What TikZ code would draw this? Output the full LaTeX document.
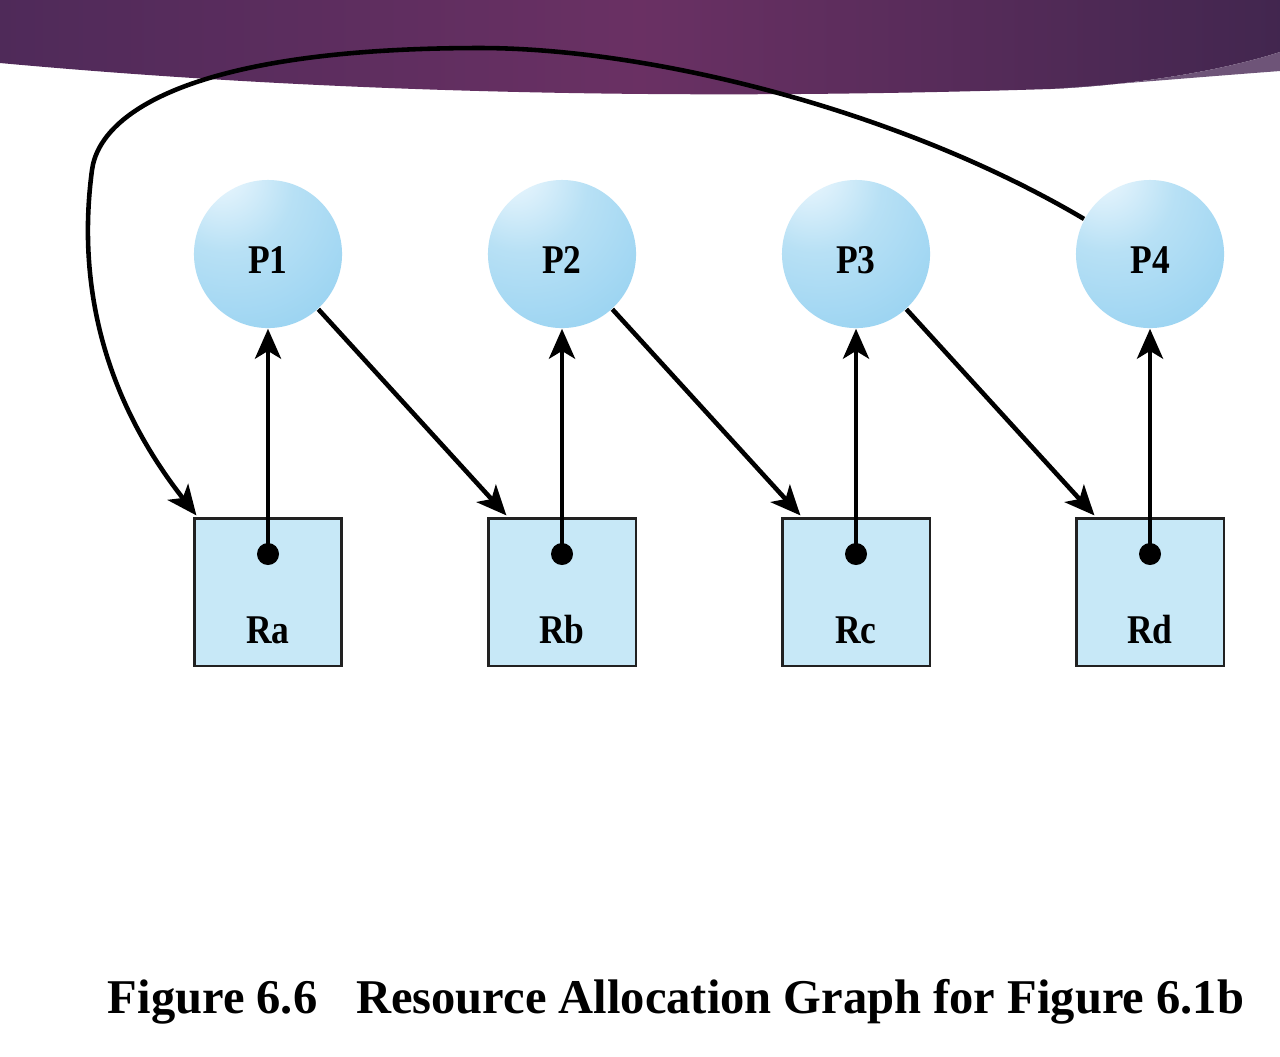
\documentclass[tikz,border=0pt]{standalone}
\usepackage{fontspec}
\setmainfont{Liberation Serif}
\newfontfamily\narrowfont[FakeStretch=0.87]{Liberation Serif}
\usetikzlibrary{arrows.meta}
\definecolor{cpin}{rgb}{0.95,0.98,1.0}
\definecolor{cpmid}{rgb}{0.72,0.88,0.96}
\definecolor{cpout}{rgb}{0.54,0.80,0.94}
\pgfdeclareradialshading{procshade}{\pgfpoint{-18bp}{30bp}}{color(0bp)=(cpin); color(22bp)=(cpmid); color(58bp)=(cpout); color(90bp)=(cpout)}

\begin{document}
\begin{tikzpicture}[x=0.01cm,y=-0.01cm,
	proc/.style={circle,minimum size=1.48cm,inner sep=0pt,shading=procshade,text height=0.38cm,text depth=0pt,font=\narrowfont\fontsize{11.6}{14}\selectfont\bfseries},
	res/.style={rectangle,minimum size=1.47cm,inner sep=0pt,draw=cres,line width=0.6pt,fill=cfres},
	reslabel/.style={font=\narrowfont\fontsize{11.6}{14}\selectfont\bfseries},
	hold/.style={circle,fill=black,minimum size=0.22cm,inner sep=0pt},
	alloc/.style={line width=1.3pt,-{Stealth[length=8.5pt,width=7.4pt,inset=2.2pt]}}]
					\definecolor{cres}{rgb}{0.13,0.13,0.13}
					\definecolor{cfres}{rgb}{0.78,0.91,0.97}
					\definecolor{cbl}{rgb}{0.31,0.165,0.35}
					\definecolor{cbm}{rgb}{0.415,0.19,0.39}
					\definecolor{cbr}{rgb}{0.26,0.15,0.31}
					\definecolor{cbs}{rgb}{0.43,0.33,0.47}
					%
					\useasboundingbox (0,0) rectangle (1280,1056);
					\fill[white] (0,0) rectangle (1280,1056);
					\shade[left color=cbl,right color=cbr,middle color=cbm] (0,0) -- (1280,0) -- (1280,52) .. controls (1230,68) and (1150,84) .. (1050,89) .. controls (700,100) and (350,95) .. (0,63) -- cycle;
					\fill[cbs] (1050,89) .. controls (1150,84) and (1230,68) .. (1280,52) -- (1280,71) .. controls (1200,77) and (1130,83) .. (1050,89) -- cycle;
					%
					\node[proc] (P1) at (268,254) {P1};
					\node[proc] (P2) at (562,254) {P2};
					\node[proc] (P3) at (856,254) {P3};
					\node[proc] (P4) at (1150,254) {P4};
					%
					\node[res] (Ra) at (268,592) {};
					\node[res] (Rb) at (562,592) {};
					\node[res] (Rc) at (856,592) {};
					\node[res] (Rd) at (1150,592) {};
					\node[reslabel] (la) at (268,630) {Ra};
					\node[reslabel] (lb) at (562,630) {Rb};
					\node[reslabel] (lc) at (856,630) {Rc};
					\node[reslabel] (ld) at (1150,630) {Rd};
					\node[hold] (ha) at (268,554) {};
					\node[hold] (hb) at (562,554) {};
					\node[hold] (hc) at (856,554) {};
					\node[hold] (hd) at (1150,554) {};
					%
					\draw[alloc] (ha.center) -- (P1);
					\draw[alloc] (hb.center) -- (P2);
					\draw[alloc] (hc.center) -- (P3);
					\draw[alloc] (hd.center) -- (P4);
					\draw[alloc] (P1) -- ([xshift=0.19cm,yshift=0.02cm]Rb.north west);
					\draw[alloc] (P2) -- ([xshift=0.19cm,yshift=0.02cm]Rc.north west);
					\draw[alloc] (P3) -- ([xshift=0.19cm,yshift=0.02cm]Rd.north west);
					\draw[alloc] (P4.152) .. controls (900,110) and (650,48) .. (480,48) .. controls (200,48) and (100,110) .. (92,170) .. controls (80,260) and (90,380) .. ([xshift=0.03cm,yshift=0.02cm]Ra.north west);
					%
					\node[font=\fontsize{13.8}{16}\selectfont\bfseries] (cap) at (676,1002) {Figure 6.6\hspace{0.8em}Resource Allocation Graph for Figure 6.1b};
					%
				\end{tikzpicture}
\end{document}
